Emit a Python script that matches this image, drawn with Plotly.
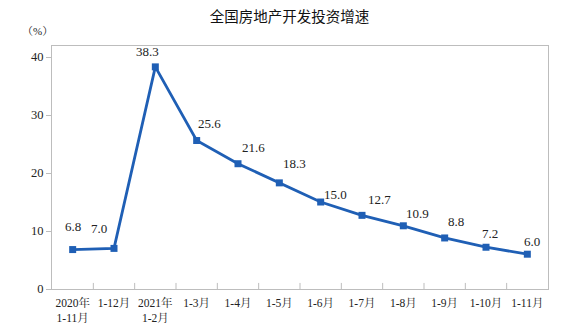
import plotly.graph_objects as go

categories = ["2020年<br>1-11月", "1-12月", "2021年<br>1-2月", "1-3月", "1-4月", "1-5月",
              "1-6月", "1-7月", "1-8月", "1-9月", "1-10月", "1-11月"]
values = [6.8, 7.0, 38.3, 25.6, 21.6, 18.3, 15.0, 12.7, 10.9, 8.8, 7.2, 6.0]
labels = ["6.8", "7.0", "38.3", "25.6", "21.6", "18.3", "15.0", "12.7", "10.9", "8.8", "7.2", "6.0"]
yticks = [0, 10, 20, 30, 40]

# label pixel offsets (style)
label_dx = [0, -15, -8, 13, 15, 15, 15, 17, 14, 11, 4, 5]
label_dy = [23, 20, 15, 17, 16, 19, 8, 16, 12, 16, 14, 13]

serif = "'Liberation Serif', 'Noto Serif CJK SC', 'Noto Sans CJK SC', serif"
blue = "#1f5fb5"

xs = list(range(len(categories)))
fig = go.Figure()
fig.add_trace(go.Scatter(
    x=xs, y=values, mode="lines+markers",
    line=dict(color=blue, width=2.8),
    marker=dict(symbol="square", size=7, color=blue),
    cliponaxis=False, showlegend=False, hoverinfo="x+y",
))

for x, v, t, dx, dy in zip(xs, values, labels, label_dx, label_dy):
    fig.add_annotation(x=x, y=v, text=t, showarrow=False, xshift=dx, yshift=dy,
                       xanchor="center", yanchor="middle",
                       font=dict(family=serif, size=13, color="#222"))

fig.update_layout(
    width=579, height=330,
    margin=dict(l=52, r=31, t=46, b=41, autoexpand=False),
    paper_bgcolor="white", plot_bgcolor="white",
    title=dict(text="全国房地产开发投资增速", x=0.5, xanchor="center", y=0.948, yanchor="middle",
               font=dict(family="Noto Sans CJK SC", size=14.5, color="#111")),
    xaxis=dict(
        range=[-0.5, len(categories) - 0.5], automargin=False,
        tickmode="array", tickvals=xs, ticktext=categories,
        showgrid=False, zeroline=False,
        showline=True, linecolor="#bdbdbd", linewidth=1, mirror=True,
        ticks="", ticklabelstandoff=3,
        tickfont=dict(family=serif, size=11.5, color="#222"),
    ),
    yaxis=dict(
        range=[0, 41.9], tickmode="array", tickvals=yticks, automargin=False,
        showgrid=False, zeroline=False,
        showline=True, linecolor="#bdbdbd", linewidth=1, mirror=True,
        ticks="outside", ticklen=5, tickcolor="#bdbdbd",
        tickfont=dict(family=serif, size=12.5, color="#222"),
    ),
)

# category separator ticks on x axis (inside, between categories)
for i in range(1, len(categories)):
    fig.add_shape(type="line", xref="x", yref="paper", x0=i - 0.5, x1=i - 0.5, y0=0, y1=0.025,
                  line=dict(color="#bdbdbd", width=1))

fig.add_annotation(text="（%）", xref="paper", yref="paper", x=-0.03, y=1.06, xanchor="center",
                   yanchor="middle", showarrow=False, font=dict(family=serif, size=11, color="#222"))

fig.write_html("out.html")
